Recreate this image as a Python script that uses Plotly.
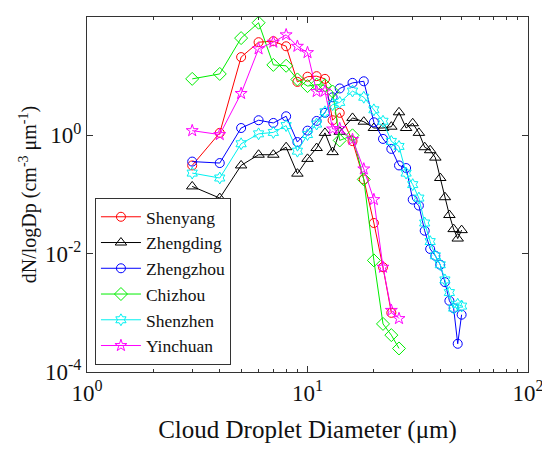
import plotly.graph_objects as go

# bin upper edges (um) shared by all sites
DIAM = [3, 4, 5, 6, 7, 8, 9, 10, 11, 12, 13, 14, 16, 18, 20, 22, 24, 26,
        28, 30, 32, 34, 36, 38, 40, 42, 44, 46, 48, 50]

SHENYANG = [0.31, 1.1, 21, 37.5, 39, 32, 8.0, 9.8, 10.0, 9.0, 1.8, 2.4,
            0.8, 0.18, 0.033, 0.0059, 0.001]
ZHENGDING = [0.137, 0.087, 0.31, 0.47, 0.47, 0.63, 0.225, 0.40, 0.61, 1.1,
             0.52, 1.15, 1.97, 1.7, 1.33, 1.33, 1.4, 2.45, 1.33, 1.6, 1.1,
             0.63, 0.56, 0.42, 0.19, 0.09, 0.045, 0.026, 0.018, 0.025]
ZHENGZHOU = [0.36, 0.34, 1.33, 1.8, 1.62, 2.1, 0.77, 1.2, 1.75, 2.4, 4.4,
             6.2, 7.7, 8.2, 1.66, 0.87, 0.59, 0.31, 0.28, 0.082, 0.065,
             0.0244, 0.012, 0.0092, 0.0065, 0.0033, 0.0016, 0.0012, 0.0003,
             0.00093]
CHIZHOU = [9.0, 10.9, 44, 80, 15.5, 15, 8.8, 6.8, 7.2, 7.0, 5.5, 0.82,
           1.0, 0.18, 0.0077, 0.00065, 0.00042, 0.00025]
SHENZHEN = [0.23, 0.19, 0.72, 1.06, 1.12, 1.46, 0.54, 1.03, 1.55, 2.5,
            3.3, 3.6, 5.6, 4.4, 2.7, 1.73, 0.79, 0.65, 0.23, 0.147, 0.087,
            0.033, 0.016, 0.0092, 0.0065, 0.0036, 0.0022, 0.0012, 0.0014,
            0.0013]
YINCHUAN = [1.2, 1.03, 5.1, 29, 37.5, 50, 32, 25, 5.5, 5.6, 1.28, 1.3,
            0.85, 0.27, 0.082, 0.0059, 0.0011, 0.0008]

SERIES = [
    ("Shenyang", SHENYANG, "#ff0000", "circle-open", 9),
    ("Zhengding", ZHENGDING, "#000000", "triangle-up-open", 10),
    ("Zhengzhou", ZHENGZHOU, "#0000ff", "circle-open", 9),
    ("Chizhou", CHIZHOU, "#00ee00", "diamond-open", 10),
    ("Shenzhen", SHENZHEN, "#00f0f0", "hexagram-open", 9),
    ("Yinchuan", YINCHUAN, "#ff00ff", "star-open", 9),
]

XTICKS = [1, 10, 100]
XTICKTEXT = ["10<sup>0</sup>", "10<sup>1</sup>", "10<sup>2</sup>"]
YTICKS = [1e-4, 1e-2, 1, 100]
YTICKTEXT = ["10<sup>-4</sup>", "10<sup>-2</sup>", "10<sup>0</sup>", "10<sup>2</sup>"]

FONT = "Liberation Serif"
INK = "#111111"

fig = go.Figure()
for name, vals, color, sym, size in SERIES:
    fig.add_trace(go.Scatter(
        x=DIAM[:len(vals)], y=vals, name=name, mode="lines+markers",
        line=dict(color=color, width=1),
        marker=dict(symbol=sym, size=size, color=color,
                    line=dict(color=color, width=1)),
    ))

axis_common = dict(
    showline=True, linecolor="#333333", linewidth=1, mirror="allticks",
    ticks="inside", ticklen=6, tickcolor="#333333", showgrid=False,
    zeroline=False, tickfont=dict(size=23, family=FONT, color=INK),
    tickmode="array",
)

fig.update_xaxes(
    type="log", range=[0, 2], tickvals=XTICKS, ticktext=XTICKTEXT,
    title=dict(text="Cloud Droplet Diameter (μm)", standoff=15,
               font=dict(size=25, family=FONT, color=INK)),
    minor=dict(ticks="inside", ticklen=3, tickcolor="#333333",
               tickmode="array",
               tickvals=[2, 3, 4, 5, 6, 7, 8, 9, 20, 30, 40, 50, 60, 70, 80, 90]),
    **axis_common,
)
fig.update_yaxes(
    type="log", range=[-4, 2], tickvals=YTICKS, ticktext=YTICKTEXT,
    title=dict(text="dN/logDp (cm<sup>-3</sup> μm<sup>-1</sup>)", standoff=2,
               font=dict(size=20, family=FONT, color=INK)),
    **axis_common,
)

# page body adds an 8px offset, so margins are shifted to compensate
fig.update_layout(
    width=550, height=449,
    margin=dict(l=79, r=30, t=9, b=85),
    paper_bgcolor="white", plot_bgcolor="white",
    font=dict(family=FONT, color=INK),
    legend=dict(x=0.018, y=0.02, xanchor="left", yanchor="bottom",
                bordercolor="#333333", borderwidth=1, bgcolor="white",
                font=dict(size=17.5, family=FONT, color=INK),
                tracegroupgap=0, itemwidth=40),
)

fig.write_html("out.html")
